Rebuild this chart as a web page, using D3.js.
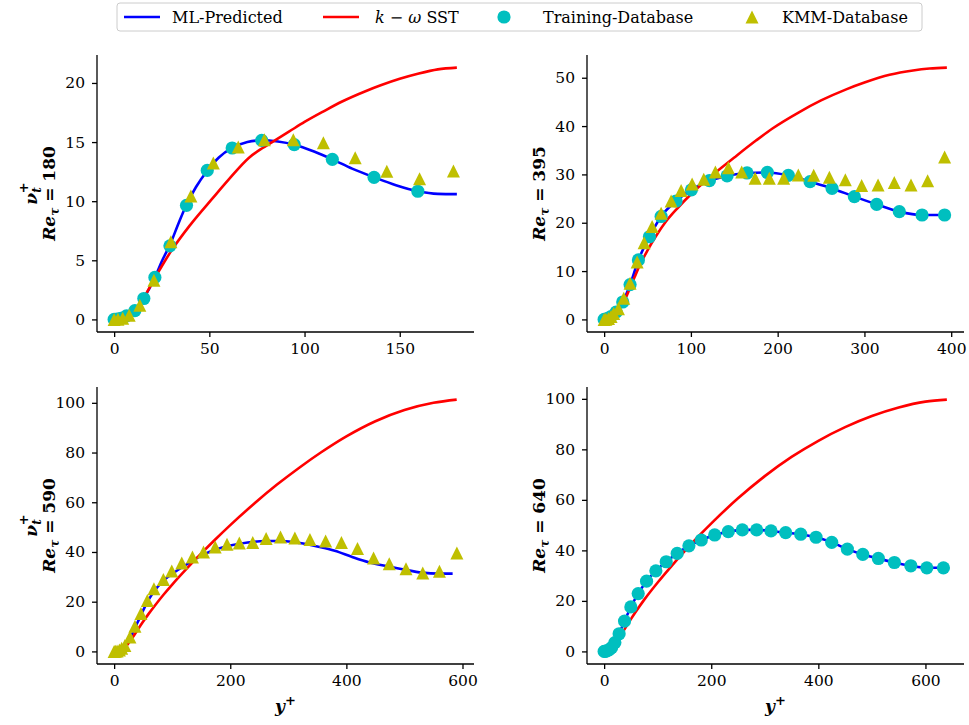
<!DOCTYPE html>
<html>
<head>
<meta charset="utf-8">
<script src="https://cdn.jsdelivr.net/npm/d3@7"></script>
<style>
body { margin: 0; background: #fff; }
text { font-family: "DejaVu Serif", serif; fill: #000; }
</style>
</head>
<body>
<svg id="chart" width="969" height="725"></svg>
<script>
// ---- data: [y+, nu_t+] ----
var ml180 = [[0,0],[3,0.1],[6,0.3],[11,0.8],[15.6,1.8],[21.4,3.55],[25,4.9],[29.3,6.3],[34,8.2],[38,9.7],[43,11.2],[49,12.6],[55,13.7],[62,14.5],[70,15.0],[77.5,15.15],[86,15.05],[94.6,14.78],[105,14.2],[114.6,13.54],[125,12.75],[136.5,12.02],[148,11.35],[159.5,10.84],[170,10.62],[180,10.6]];
var sst180 = [[0,0],[5,0.2],[10,0.7],[15,1.7],[21,3.4],[25,4.5],[30,5.8],[40,8.0],[52,10.3],[60,11.8],[71,13.7],[78,14.5],[83,15.0],[92,15.9],[100,16.7],[110,17.6],[120,18.45],[132,19.3],[140,19.8],[150,20.35],[160,20.8],[170,21.15],[180,21.3]];
var train180 = [[0,0],[1.5,0.02],[3.5,0.1],[6.5,0.3],[10.9,0.75],[15.6,1.77],[21.4,3.55],[29.3,6.22],[38,9.65],[48.9,12.6],[62,14.5],[77.5,15.14],[94.6,14.78],[114.6,13.54],[136.5,12.02],[159.5,10.84]];
var kmm180 = [[0,0],[2,0.02],[4.5,0.1],[7.9,0.36],[13.5,1.2],[20.9,3.32],[29.8,6.56],[40.3,10.44],[52.1,13.23],[65.2,14.58],[78.9,15.2],[94.1,15.2],[109.9,14.95],[126.6,13.68],[143.2,12.53],[160.4,11.9],[178.2,12.55]];

var ml395 = [[0,0],[5,0.2],[10,0.8],[13.8,1.5],[21.4,3.6],[29.9,7.2],[39.5,12.3],[52.2,17.1],[65.7,21.3],[82.9,24.5],[100.6,26.8],[121.3,28.7],[141.7,29.7],[164.7,30.3],[188.1,30.4],[212.3,29.8],[237.3,28.5],[262.7,27.1],[288.4,25.4],[314.1,23.8],[340.2,22.3],[366.4,21.6],[392.4,21.6]];
var sst395 = [[0,0],[10,0.6],[20,2.8],[25,4.5],[30,6.6],[35,8.7],[40,10.8],[45,12.6],[50,14.3],[60,17.3],[71,20.2],[85,23.1],[100,25.9],[117,28.7],[125,29.9],[150,33.5],[175,37.0],[194,39.5],[225,42.9],[250,45.3],[279,47.6],[300,49.0],[329,50.6],[356,51.5],[375,51.9],[395,52.1]];
var train395 = [[0,0],[2,0.05],[4.5,0.2],[8,0.6],[13.8,1.5],[21.4,3.6],[29.9,7.2],[39.5,12.3],[52.2,17.1],[65.7,21.3],[82.9,24.5],[100.6,26.8],[121.3,28.7],[141.7,29.7],[164.7,30.3],[188.1,30.4],[212.3,29.8],[237.3,28.5],[262.7,27.1],[288.4,25.4],[314.1,23.8],[340.2,22.3],[366.4,21.6],[392.4,21.6]];
var kmm395 = [[0,0],[2,0.05],[5,0.2],[8,0.6],[11,1.2],[16.5,2.2],[22.6,4.4],[29.9,7.5],[38,11.9],[46.1,15.85],[55.3,19.2],[65.7,21.95],[77.2,24.5],[88.7,26.65],[101.4,28.0],[114.8,29.0],[128.2,30.5],[143.2,31.4],[158.5,30.5],[174,29.2],[190.4,29.2],[206.9,29.2],[223.8,29.9],[241.5,29.8],[259.6,29.4],[278,28.9],[296.8,27.7],[315.7,27.8],[334.4,28.3],[353.7,27.8],[372.8,28.7],[392.4,33.6]];

var ml590 = [[0,0],[10,0.5],[20,2.5],[30,6.5],[40,11.5],[50,16.5],[60,21],[75,26],[90,29.5],[100,31.2],[125,35],[150,38.5],[175,41],[200,42.6],[230,43.8],[260,44.4],[290,44.4],[320,43.6],[350,42.2],[380,40.5],[410,38],[440,35.8],[470,34.3],[500,32.9],[530,31.7],[560,31.3],[583,31.3]];
var sst590 = [[0,0],[10,0.4],[20,2.0],[30,5.0],[40,8.5],[50,12.0],[60,15.3],[70,18.4],[85,22.8],[100,26.9],[125,33.3],[148,38.9],[175,45.2],[200,50.8],[240,59.2],[280,67.0],[320,74.1],[356,80.0],[400,86.5],[450,92.6],[500,97.1],[550,100.0],[590,101.3]];
var kmm590 = [[0,0],[2,0.05],[5,0.2],[9,0.6],[13,1.3],[18.5,2.4],[27.2,5.8],[35.8,10.1],[46.2,15.2],[57.1,20.5],[68.6,25.2],[84.8,28.9],[99.2,32.3],[116.5,35.6],[134.9,38],[153.9,40],[174.1,42],[194.4,43.1],[215.6,43.6],[238.7,43.8],[261.8,45.4],[286.5,46.0],[311.3,45.6],[337.2,45.0],[364.3,44.4],[391.5,43.8],[419.2,41.4],[446.8,37.6],[473.8,35.3],[502.7,33.3],[531.5,31.5],[560.3,32.2],[590.3,39.6]];

var ml640 = [[0,0],[5,0.2],[9,0.6],[14,1.5],[20,3.5],[28,7.0],[38.1,12.0],[49.9,17.6],[63.6,22.9],[79.2,27.8],[96.6,31.9],[115.9,35.5],[136.4,38.8],[158.3,41.8],[181.4,44.1],[206.4,46.1],[231.8,47.4],[258,48.1],[284.8,48.1],[311.6,47.7],[339,47.0],[367.1,46.4],[395.7,45.2],[425,43.2],[454.2,40.5],[483,38.4],[512.1,36.8],[542,35.2],[572.7,33.9],[602.6,33.1],[633.6,33.1]];
var sst640 = [[0,0],[10,0.5],[20,2.4],[30,5.8],[40,9.4],[50,12.8],[60,16.0],[76,20.8],[100,27.3],[125,33.6],[150,39.6],[175,45.3],[204,51.5],[250,60.6],[300,69.4],[350,77.0],[400,83.4],[450,88.8],[500,93.2],[550,96.6],[600,98.9],[640,99.7]];
var train640 = [[0,0],[2,0.05],[5,0.2],[9,0.6],[14,1.5],[20,3.5],[28,7.0],[38.1,12.0],[49.9,17.6],[63.6,22.9],[79.2,27.8],[96.6,31.9],[115.9,35.5],[136.4,38.8],[158.3,41.8],[181.4,44.1],[206.4,46.1],[231.8,47.4],[258,48.1],[284.8,48.1],[311.6,47.7],[339,47.0],[367.1,46.4],[395.7,45.2],[425,43.2],[454.2,40.5],[483,38.4],[512.1,36.8],[542,35.2],[572.7,33.9],[602.6,33.1],[633.6,33.1]];

var legendNames = ['ML-Predicted', 'k-w SST', 'Training-Database', 'KMM-Database'];
var colors = {ml: '#0000ff', sst: '#ff0000', train: '#00bfbf', kmm: '#bfbf00'};

var panels = [
    {re: '180', ml: ml180, sst: sst180, train: train180, kmm: kmm180,
     xTicks: [0,50,100,150], yTicks: [0,5,10,15,20], box: [97,55,474,332], nu: true, xlab: false},
    {re: '395', ml: ml395, sst: sst395, train: train395, kmm: kmm395,
     xTicks: [0,100,200,300,400], yTicks: [0,10,20,30,40,50], box: [587,55,964,332], nu: false, xlab: false},
    {re: '590', ml: ml590, sst: sst590, train: [], kmm: kmm590,
     xTicks: [0,200,400,600], yTicks: [0,20,40,60,80,100], box: [97,387,474,664], nu: true, xlab: true},
    {re: '640', ml: ml640, sst: sst640, train: train640, kmm: [],
     xTicks: [0,200,400,600], yTicks: [0,20,40,60,80,100], box: [587,387,964,664], nu: false, xlab: true}
];

var svg = d3.select('#chart');
var triPath = 'M0,-6.5L-6.5,6.5L6.5,6.5Z';

function padded(ext) {
    var m = (ext[1] - ext[0]) * 0.05;
    return [ext[0] - m, ext[1] + m];
}

panels.forEach(function(p) {
    var all = p.ml.concat(p.sst, p.train, p.kmm);
    var x = d3.scaleLinear().domain(padded(d3.extent(all, function(d) { return d[0]; }))).range([p.box[0], p.box[2]]);
    var y = d3.scaleLinear().domain(padded(d3.extent(all, function(d) { return d[1]; }))).range([p.box[3], p.box[1]]);
    var g = svg.append('g');

    var line = d3.line()
        .x(function(d) { return x(d[0]); })
        .y(function(d) { return y(d[1]); })
        .curve(d3.curveMonotoneX);

    g.append('path').attr('d', line(p.ml)).attr('fill', 'none')
        .attr('stroke', colors.ml).attr('stroke-width', 2.6);
    g.append('path').attr('d', line(p.sst)).attr('fill', 'none')
        .attr('stroke', colors.sst).attr('stroke-width', 2.6);

    g.selectAll('.train').data(p.train).enter().append('circle')
        .attr('class', 'train')
        .attr('cx', function(d) { return x(d[0]); })
        .attr('cy', function(d) { return y(d[1]); })
        .attr('r', 6.6)
        .attr('fill', colors.train);

    g.selectAll('.kmm').data(p.kmm).enter().append('path')
        .attr('class', 'kmm')
        .attr('d', triPath)
        .attr('transform', function(d) { return 'translate(' + x(d[0]) + ',' + y(d[1]) + ')'; })
        .attr('fill', colors.kmm);

    var xAxis = g.append('g').attr('transform', 'translate(0,' + p.box[3] + ')')
        .call(d3.axisBottom(x).tickValues(p.xTicks).tickFormat(d3.format('d')).tickSize(5).tickPadding(6));
    var yAxis = g.append('g').attr('transform', 'translate(' + p.box[0] + ',0)')
        .call(d3.axisLeft(y).tickValues(p.yTicks).tickFormat(d3.format('d')).tickSize(5).tickPadding(7));
    [xAxis, yAxis].forEach(function(a) {
        a.select('.domain').attr('stroke', '#000').attr('stroke-width', 1.3)
            .attr('d', a === xAxis ? 'M' + p.box[0] + ',0H' + p.box[2] : 'M0,' + p.box[3] + 'V' + p.box[1]);
        a.selectAll('.tick line').attr('stroke', '#000').attr('stroke-width', 1.3);
        a.selectAll('.tick text').attr('font-family', '"DejaVu Serif", serif').attr('font-size', 15.5).attr('fill', '#000');
    });

    // y label
    var cy = (p.box[1] + p.box[3]) / 2;
    var lab = g.append('text')
        .attr('transform', 'translate(' + (p.box[0] - 42) + ',' + cy + ') rotate(-90)')
        .attr('text-anchor', 'middle').attr('font-size', 17).attr('font-weight', 'bold');
    lab.append('tspan').attr('font-style', 'italic').text('Re');
    lab.append('tspan').attr('font-style', 'italic').attr('font-size', 12).attr('dy', 4).text('τ');
    lab.append('tspan').attr('dy', -4).text(' = ' + p.re);
    if (p.nu) {
        var nu = g.append('text')
            .attr('transform', 'translate(' + (p.box[0] - 60) + ',' + cy + ') rotate(-90)')
            .attr('text-anchor', 'middle').attr('font-size', 17).attr('font-weight', 'bold');
        nu.append('tspan').attr('font-style', 'italic').text('ν');
        nu.append('tspan').attr('font-style', 'italic').attr('font-size', 12).attr('dy', 4).text('t');
        nu.append('tspan').attr('font-size', 13).attr('dx', -6).attr('dy', -13).text('+');
    }
    if (p.xlab) {
        var xl = g.append('text')
            .attr('x', (p.box[0] + p.box[2]) / 2).attr('y', 712)
            .attr('text-anchor', 'middle').attr('font-size', 17).attr('font-weight', 'bold');
        xl.append('tspan').attr('font-style', 'italic').text('y');
        xl.append('tspan').attr('font-size', 13).attr('dy', -7).text('+');
    }
});

// legend
var leg = svg.append('g');
leg.append('rect').attr('x', 117).attr('y', 3).attr('width', 805).attr('height', 28).attr('rx', 3)
    .attr('fill', '#fff').attr('stroke', '#cccccc').attr('stroke-width', 1);
var handleX = [124, 323, 486, 734], ly = 17;
legendNames.forEach(function(name, i) {
    var it = leg.append('g').attr('transform', 'translate(' + handleX[i] + ',0)');
    if (i < 2) {
        it.append('line').attr('x1', 0).attr('x2', 36).attr('y1', ly).attr('y2', ly)
            .attr('stroke', i === 0 ? colors.ml : colors.sst).attr('stroke-width', 2.6);
    } else if (i === 2) {
        it.append('circle').attr('cx', 18).attr('cy', ly).attr('r', 6.6).attr('fill', colors.train);
    } else {
        it.append('path').attr('d', triPath).attr('transform', 'translate(18,' + ly + ')').attr('fill', colors.kmm);
    }
    var t = it.append('text').attr('x', i === 0 ? 48 : (i === 1 ? 52 : (i === 2 ? 57 : 48))).attr('y', ly + 5.5).attr('font-size', 16);
    if (i === 1) {
        t.append('tspan').attr('font-style', 'italic').text('k');
        t.append('tspan').text(' − ');
        t.append('tspan').attr('font-style', 'italic').text('ω');
        t.append('tspan').text(' SST');
    } else {
        t.text(name);
    }
});
</script>
</body>
</html>
